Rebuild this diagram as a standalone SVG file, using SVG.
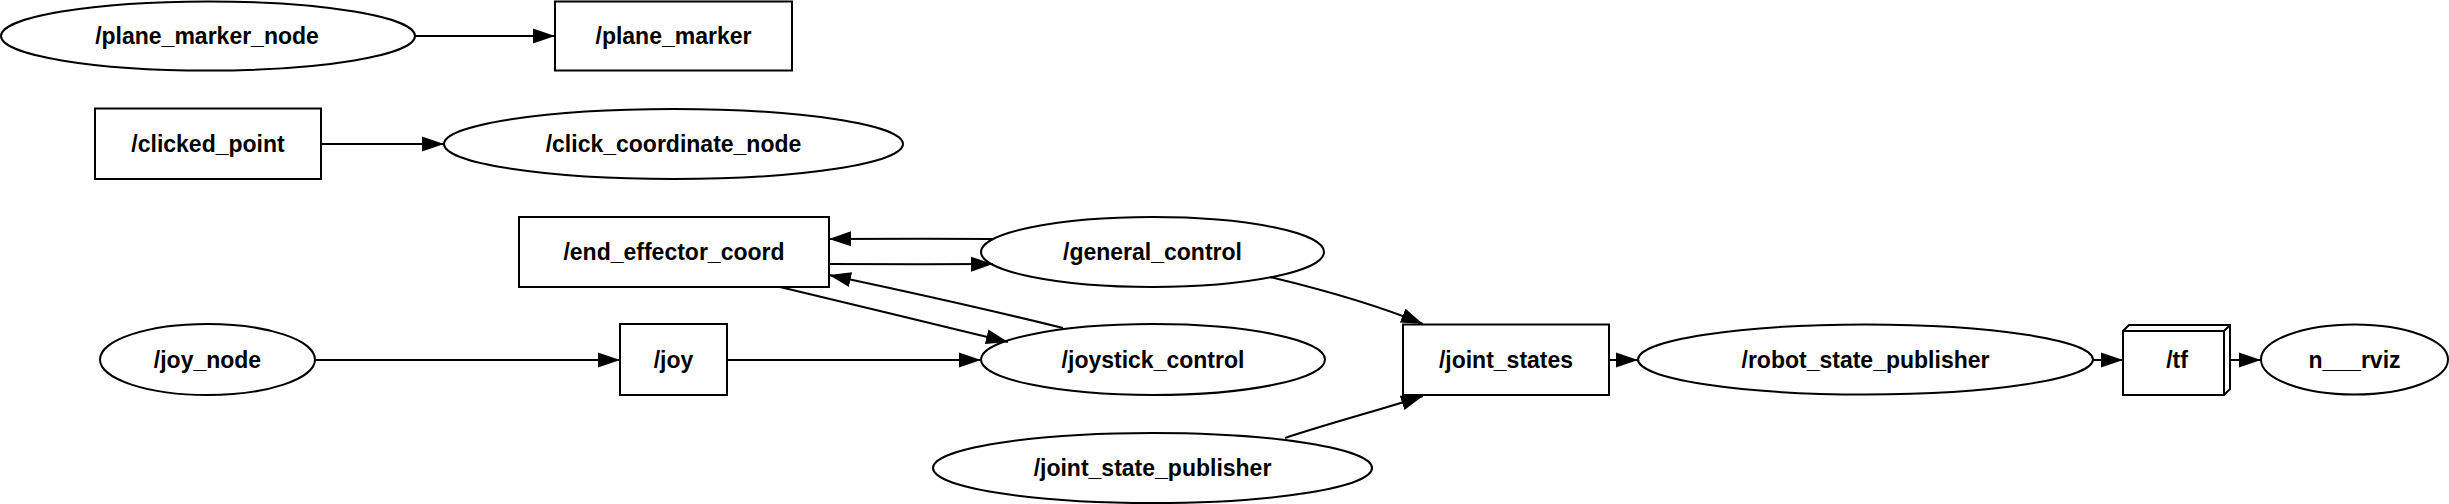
<svg xmlns="http://www.w3.org/2000/svg" width="2449" height="504" viewBox="0 0 2449 504">
<style>
.n ellipse, .n rect, .n path { fill: none; stroke: #000; stroke-width: 2; }
.n text { font-family: "Liberation Sans", Arial, sans-serif; font-weight: bold; font-size: 23px; text-anchor: middle; fill: #000; }
.e path { fill: none; stroke: #000; stroke-width: 2; marker-end: url(#ah); }
</style>
<defs>
<marker id="ah" markerUnits="userSpaceOnUse" markerWidth="22" markerHeight="16" refX="22" refY="8" orient="auto" viewBox="0 0 22 16">
<path d="M0,0.5 L22,8 L0,15.5 z" fill="#000"/>
</marker>
</defs>
<rect width="2449" height="504" fill="#fff"/>
<g class="e" id="edges">
<path d="M415,36 L555,36"/>
<path d="M321,144 L444,144"/>
<path d="M993,239 C940,238.5 880,238.5 829,239"/>
<path d="M829,264 C880,264.5 940,264.5 993,264"/>
<path d="M1063,328 C990,310 900,290 829,275"/>
<path d="M780,287 C850,304 940,325 1008,342"/>
<path d="M315,360 L620,360"/>
<path d="M727,360 L981,360"/>
<path d="M1270,277 C1320,289 1372,303 1423,324"/>
<path d="M1285,438 C1330,423 1380,410 1423,396"/>
<path d="M1609,360 L1638,360"/>
<path d="M2093,360 L2123,360"/>
<path d="M2230,360 L2261,360"/>
</g>
<g class="n" id="plane_marker_node"><ellipse cx="208" cy="36" rx="207" ry="34.5"/><text x="207" y="44">/plane_marker_node</text></g>
<g class="n" id="plane_marker"><rect x="555" y="1.5" width="237" height="69"/><text x="673.5" y="44">/plane_marker</text></g>
<g class="n" id="clicked_point"><rect x="95" y="108.5" width="226" height="70.5"/><text x="208" y="152">/clicked_point</text></g>
<g class="n" id="click_coordinate_node"><ellipse cx="673.5" cy="144" rx="229.5" ry="35"/><text x="673.5" y="152">/click_coordinate_node</text></g>
<g class="n" id="end_effector_coord"><rect x="519" y="217" width="310" height="70"/><text x="674" y="260">/end_effector_coord</text></g>
<g class="n" id="general_control"><ellipse cx="1152.5" cy="252" rx="171.5" ry="35"/><text x="1152.5" y="260">/general_control</text></g>
<g class="n" id="joy_node"><ellipse cx="207.5" cy="359.5" rx="107.5" ry="35.5"/><text x="207.5" y="368">/joy_node</text></g>
<g class="n" id="joy"><rect x="620" y="324" width="107" height="71"/><text x="673.5" y="368">/joy</text></g>
<g class="n" id="joystick_control"><ellipse cx="1153" cy="359.5" rx="172" ry="35.5"/><text x="1153" y="368">/joystick_control</text></g>
<g class="n" id="joint_states"><rect x="1403" y="324.5" width="206" height="70.5"/><text x="1506" y="368">/joint_states</text></g>
<g class="n" id="joint_state_publisher"><ellipse cx="1152.5" cy="468" rx="219.5" ry="35"/><text x="1152.5" y="476">/joint_state_publisher</text></g>
<g class="n" id="robot_state_publisher"><ellipse cx="1865.5" cy="359.5" rx="227.5" ry="35"/><text x="1865.5" y="368">/robot_state_publisher</text></g>
<g class="n" id="tf"><path d="M2123,331 L2129,325 L2230,325 L2230,389 L2224,395 L2123,395 Z M2123,331 L2224,331 L2224,395 M2224,331 L2230,325"/><text x="2177" y="368">/tf</text></g>
<g class="n" id="n___rviz"><ellipse cx="2354.5" cy="359.5" rx="93.5" ry="35"/><text x="2354.5" y="368">n___rviz</text></g>
</svg>
